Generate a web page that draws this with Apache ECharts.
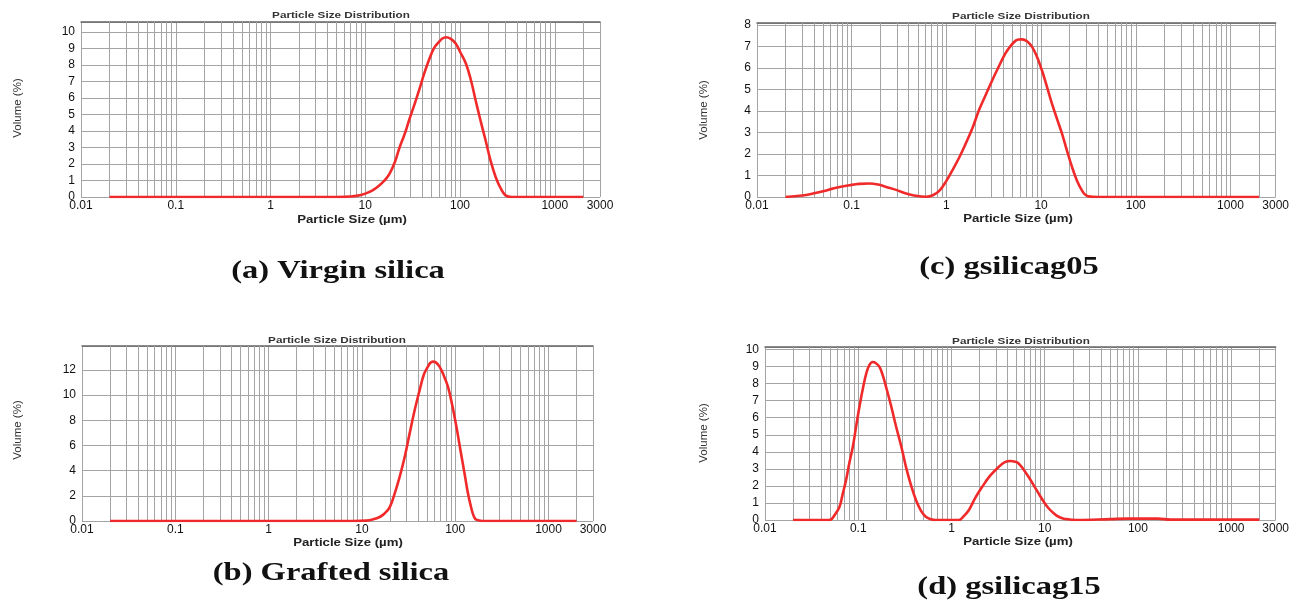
<!DOCTYPE html>
<html><head><meta charset="utf-8">
<script src="https://cdn.jsdelivr.net/npm/echarts@6/dist/echarts.min.js"></script>
<style>html,body{margin:0;padding:0;background:#fff}#c{width:1292px;height:605px}</style>
</head><body><div id="c"></div>
<script>
// ---- data ----
const xTickLabels = ['0.01', '0.1', '1', '10', '100', '1000', '3000'];
const xGridValues = [
  0.02,0.03,0.04,0.05,0.06,0.07,0.08,0.09,
  0.2,0.3,0.4,0.5,0.6,0.7,0.8,0.9,
  2,3,4,5,6,7,8,9,
  20,30,40,50,60,70,80,90,
  200,300,400,500,600,700,800,900,
  2000
];
const captions = ['(a) Virgin silica', '(b) Grafted silica', '(c) gsilicag05', '(d) gsilicag15'];

const sizeA = [0.02, 1, 5, 7, 9, 11, 12.5, 14, 16, 18, 20.5, 23, 26, 29, 33, 37, 42, 47, 53, 60, 65, 71, 80, 90, 100, 115, 130, 146, 165, 186, 210, 238, 270, 302, 350, 500, 2000];
const volA  = [0, 0, 0, 0.03, 0.12, 0.3, 0.48, 0.7, 1.0, 1.4, 2.1, 3.0, 3.8, 4.65, 5.6, 6.47, 7.5, 8.3, 9.0, 9.4, 9.6, 9.68, 9.58, 9.3, 8.8, 8.1, 7.1, 5.86, 4.6, 3.44, 2.2, 1.2, 0.5, 0.1, 0, 0, 0];

const sizeB = [0.02, 1, 8, 11.2, 13, 15.5, 17.5, 19.9, 22.5, 25.4, 29, 32.5, 36.5, 41.6, 46, 51, 54, 57.7, 62, 68, 75, 83.6, 93, 103, 114, 126, 137, 149, 158, 168, 196, 500, 2000];
const volB  = [0, 0, 0, 0.03, 0.12, 0.32, 0.6, 1.1, 2.2, 3.5, 5.2, 6.96, 8.7, 10.4, 11.6, 12.26, 12.55, 12.66, 12.6, 12.26, 11.6, 10.67, 9.2, 7.5, 5.6, 3.77, 2.2, 1.0, 0.4, 0.1, 0, 0, 0];

const sizeC = [0.02, 0.03, 0.039, 0.05, 0.063, 0.077, 0.095, 0.12, 0.154, 0.19, 0.231, 0.3, 0.375, 0.47, 0.61, 0.72, 0.84, 1.0, 1.16, 1.37, 1.6, 1.9, 2.21, 2.6, 3.06, 3.6, 4.2, 4.8, 5.4, 5.8, 6.3, 7.1, 8.0, 9, 10.2, 11.5, 13, 14.7, 16.6, 18.8, 21.2, 24, 27, 29, 31.6, 40, 200, 2000];
const volC  = [0, 0.07, 0.16, 0.27, 0.39, 0.48, 0.55, 0.61, 0.63, 0.58, 0.47, 0.32, 0.16, 0.06, 0.01, 0.08, 0.28, 0.75, 1.25, 1.85, 2.49, 3.25, 4.05, 4.75, 5.45, 6.1, 6.69, 7.05, 7.28, 7.33, 7.34, 7.25, 7.0, 6.55, 5.9, 5.15, 4.36, 3.65, 2.96, 2.15, 1.4, 0.75, 0.31, 0.12, 0.03, 0, 0, 0];

const sizeD = [0.02, 0.049, 0.056, 0.063, 0.068, 0.074, 0.08, 0.0875, 0.095, 0.103, 0.112, 0.122, 0.132, 0.143, 0.155, 0.169, 0.183, 0.199, 0.225, 0.255, 0.29, 0.325, 0.37, 0.416, 0.47, 0.53, 0.6, 0.68, 1.2, 1.35, 1.54, 1.8, 2.14, 2.6, 3.22, 3.7, 4.3, 4.8, 5.25, 5.9, 6.7, 7.6, 8.6, 9.7, 11, 12.5, 14.1, 16, 18, 20, 23, 50, 78, 164, 224, 2000];
const volD  = [0, 0, 0.3, 0.78, 1.5, 2.34, 3.3, 4.3, 5.5, 6.64, 7.7, 8.6, 9.1, 9.27, 9.2, 8.98, 8.5, 7.8, 6.7, 5.47, 4.3, 3.12, 2.0, 1.17, 0.55, 0.19, 0.05, 0, 0, 0.22, 0.59, 1.3, 1.95, 2.6, 3.12, 3.38, 3.46, 3.42, 3.32, 2.98, 2.54, 2.05, 1.56, 1.1, 0.69, 0.4, 0.19, 0.08, 0.04, 0.01, 0, 0.05, 0.08, 0.08, 0.02, 0.02];

// ---- layout / styling ----
const panels = [
  {x: sizeA, y: volA, grid: {left: 81, top: 22, width: 519, height: 175}, yMax: 10.6, yStep: 1,
   title: [341, 16], xname: [352, 220], yname: [18, 108], cap: [338, 272]},
  {x: sizeB, y: volB, grid: {left: 82, top: 346, width: 511, height: 175}, yMax: 13.9, yStep: 2,
   title: [337, 341], xname: [348, 543], yname: [18, 430], cap: [331, 574]},
  {x: sizeC, y: volC, grid: {left: 757, top: 23, width: 521, height: 174}, yMax: 8.1, yStep: 1,
   title: [1021, 17], xname: [1018, 219], yname: [704, 110], cap: [1009, 268]},
  {x: sizeD, y: volD, grid: {left: 765, top: 347, width: 513, height: 173}, yMax: 10.15, yStep: 1,
   title: [1021, 342], xname: [1018, 542], yname: [704, 433], cap: [1009, 588]}
];
const GRID = '#a4a4a4';
const RED = '#f02a2a';
const labelFont = {fontFamily: 'Liberation Sans, Arial, sans-serif', fontSize: 12, color: '#111'};

const option = {animation: false, grid: [], xAxis: [], yAxis: [], series: [], graphic: []};

panels.forEach((p, i) => {
  option.grid.push(Object.assign({}, p.grid, {containLabel: false}));
  option.xAxis.push({
    type: 'log', logBase: 10, min: 0.01, max: 3000, gridIndex: i,
    axisLine: {show: false}, axisTick: {show: false},
    splitLine: {show: true, lineStyle: {color: GRID, width: 1}},
    axisLabel: Object.assign({
      margin: 3, showMinLabel: true, showMaxLabel: true,
      formatter: v => {
        const l = xTickLabels.find(s => Math.abs(Math.log10(+s) - Math.log10(v)) < 1e-4);
        return l || '';
      }
    }, labelFont)
  });
  option.xAxis.push({
    type: 'value', min: 0, max: 1, gridIndex: i, position: 'top',
    axisLine: {show: true, lineStyle: {color: '#666', width: 1.5}},
    axisTick: {show: false}, axisLabel: {show: false}, splitLine: {show: false}
  });
  option.yAxis.push({
    type: 'value', min: 0, max: p.yMax, interval: p.yStep, gridIndex: i,
    axisLine: {show: false}, axisTick: {show: false},
    splitLine: {show: true, lineStyle: {color: GRID, width: 1}},
    axisLabel: Object.assign({margin: 6, showMaxLabel: false}, labelFont)
  });
  // minor vertical grid lines (2..9 per decade) placed via the log axis
  option.series.push({
    type: 'line', xAxisIndex: 2 * i, yAxisIndex: i, data: [], z: 1, silent: true,
    markLine: {
      silent: true, symbol: ['none', 'none'], animation: false,
      label: {show: false},
      lineStyle: {color: GRID, type: 'solid', width: 1},
      data: xGridValues.map(v => ({xAxis: v}))
    }
  });
  option.series.push({
    type: 'line', xAxisIndex: 2 * i, yAxisIndex: i, z: 5,
    data: p.x.map((v, k) => [v, p.y[k]]),
    smooth: 0.4, showSymbol: false, symbol: 'none',
    lineStyle: {color: RED, width: 2.6}
  });
  // texts
  option.graphic.push({
    type: 'text', x: p.title[0], y: p.title[1], scaleX: 1.3, z: 10,
    style: {text: 'Particle Size Distribution', fontFamily: 'Liberation Sans, Arial, sans-serif',
            fontSize: 9, fontWeight: 'bold', fill: '#333', align: 'center', verticalAlign: 'middle'}
  });
  option.graphic.push({
    type: 'text', x: p.xname[0], y: p.xname[1], scaleX: 1.2, z: 10,
    style: {text: 'Particle Size (µm)', fontFamily: 'Liberation Sans, Arial, sans-serif',
            fontSize: 11, fontWeight: 'bold', fill: '#222', align: 'center', verticalAlign: 'middle'}
  });
  option.graphic.push({
    type: 'text', x: p.yname[0], y: p.yname[1], rotation: Math.PI / 2, z: 10,
    style: {text: 'Volume (%)', fontFamily: 'Liberation Sans, Arial, sans-serif',
            fontSize: 11.5, fill: '#333', align: 'center', verticalAlign: 'middle'}
  });
  option.graphic.push({
    type: 'text', x: p.cap[0], y: p.cap[1], scaleX: 1.3, z: 10,
    style: {text: captions[i], fontFamily: 'Liberation Serif, Times New Roman, serif',
            fontSize: 25, fontWeight: 'bold', fill: '#111', align: 'center', verticalAlign: 'middle'}
  });
});

const chart = echarts.init(document.getElementById('c'), null, {renderer: 'canvas'});
chart.setOption(option);
</script>
</body></html>
